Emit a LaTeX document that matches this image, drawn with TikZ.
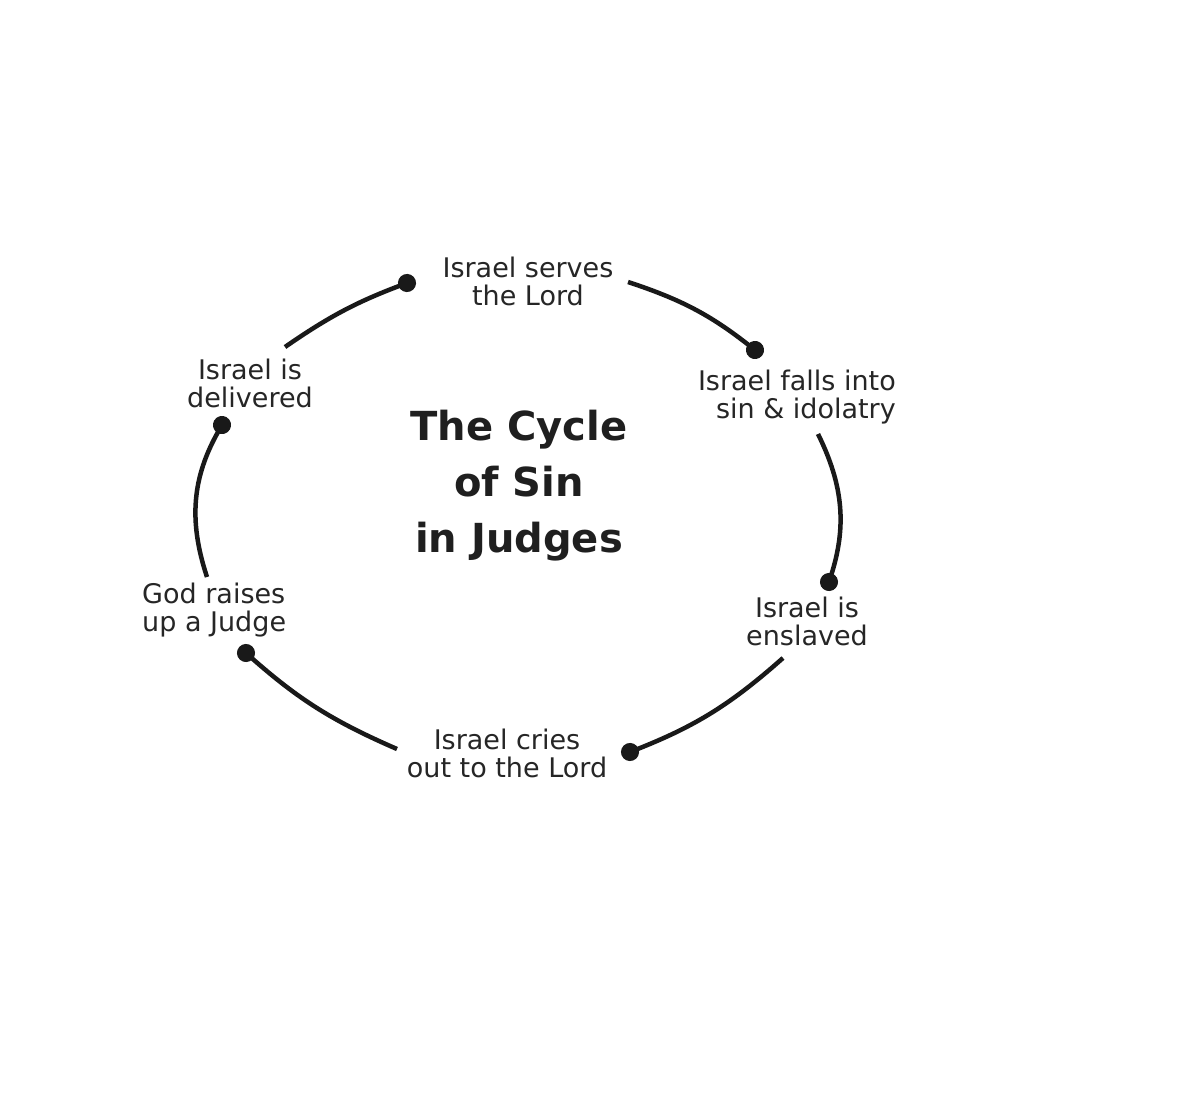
\documentclass[tikz,border=0pt]{standalone}
\usepackage{fontspec}
\setmainfont{DejaVu Sans}
\usetikzlibrary{arrows.meta}
\begin{document}
\begin{tikzpicture}[x=1pt,y=-1pt,
  lbl/.style={font=\fontsize{27}{28}\selectfont, text=black!85, inner sep=0pt, align=center},
  ttl/.style={font=\fontsize{40}{56}\selectfont\bfseries, text=black!88, inner sep=0pt, align=center},
  cyclearc/.style={line width=4.5pt, draw=black!90, -{Circle[length=18pt,width=18pt]}, shorten >=-9pt}]
\useasboundingbox[fill=white] (0,0) rectangle (1200,1108);

\node[ttl, anchor=base] (title) at (519,552) {The Cycle\\of Sin\\in Judges};
\node[lbl, anchor=base] (serves) at (528,305) {Israel serves\\the Lord};
\node[lbl, align=right, anchor=base east] (falls) at (896,418) {Israel falls into\\sin \& idolatry};
\node[lbl, anchor=base] (enslaved) at (807,645) {Israel is\\enslaved};
\node[lbl, anchor=base] (cries) at (507,777) {Israel cries\\out to the Lord};
\node[lbl, align=left, anchor=base west] (raises) at (142,631) {God raises\\up a Judge};
\node[lbl, anchor=base] (delivered) at (250,407) {Israel is\\delivered};

\coordinate (d1s) at (285,347); \coordinate (d1e) at (407,283);
\coordinate (d2s) at (628,282); \coordinate (d2e) at (755,350);
\coordinate (d3s) at (818,434); \coordinate (d3e) at (829,582);
\coordinate (d4s) at (783,658); \coordinate (d4e) at (630,752);
\coordinate (d5s) at (397,749); \coordinate (d5e) at (246,653);
\coordinate (d6s) at (207,577); \coordinate (d6e) at (222,425);

\draw[cyclearc] (d1s) to[bend left=7] (d1e);
\draw[cyclearc] (d2s) to[bend left=10] (d2e);
\draw[cyclearc] (d3s) to[bend left=22] (d3e);
\draw[cyclearc] (d4s) to[bend left=10] (d4e);
\draw[cyclearc] (d5s) to[bend left=9] (d5e);
\draw[cyclearc] (d6s) to[bend left=24] (d6e);
\end{tikzpicture}
\end{document}
